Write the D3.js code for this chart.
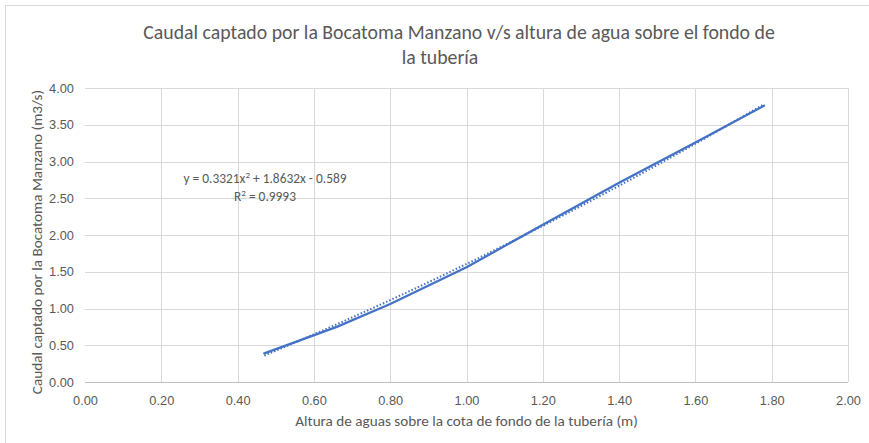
<!DOCTYPE html>
<html>
<head>
<meta charset="utf-8">
<script src="https://cdn.jsdelivr.net/npm/d3@7"></script>
<style>
  body { margin: 0; background: #fff; }
  svg { font-family: Carlito, Calibri, Lato, sans-serif; }
  .grid line { stroke: #d9d9d9; }
  .tick text { fill: #595959; font-size: 12.8px; }
</style>
</head>
<body>
<svg width="869" height="443"></svg>
<script>
// measured points (altura m, caudal m3/s)
const altura = [0.47, 0.66, 0.80, 1.00, 1.20, 1.40, 1.60, 1.78];
const caudal = [0.39, 0.75, 1.06, 1.56, 2.14, 2.71, 3.26, 3.76];
// polynomial trendline shown in the chart: a*x^2 + b*x + c
const trendCoef = [0.3321, 1.8632, -0.589];
const xTicks = [0, 0.2, 0.4, 0.6, 0.8, 1.0, 1.2, 1.4, 1.6, 1.8, 2.0];
const yTicks = [0, 0.5, 1.0, 1.5, 2.0, 2.5, 3.0, 3.5, 4.0];

const margin = { top: 88, right: 21, bottom: 61, left: 85 },
      width = 869 - margin.left - margin.right,
      height = 443 - margin.top - margin.bottom;

const svg = d3.select("svg");

// chart frame
svg.append("rect")
   .attr("x", 5.5).attr("y", 5.5)
   .attr("width", 900).attr("height", 900)
   .attr("fill", "none").attr("stroke", "#d9d9d9");

const g = svg.append("g")
    .attr("transform", `translate(${margin.left},${margin.top})`);

const x = d3.scaleLinear().domain([0, 2]).range([0, width]);
const y = d3.scaleLinear().domain([0, 4]).range([height, 0]);

// gridlines
g.append("g").attr("class", "grid")
 .selectAll("line").data(yTicks.slice(1)).enter().append("line")
 .attr("x1", 0).attr("x2", width)
 .attr("y1", d => Math.round(y(d)) + 0.5).attr("y2", d => Math.round(y(d)) + 0.5);
g.append("g").attr("class", "grid")
 .selectAll("line").data(xTicks.slice(1)).enter().append("line")
 .attr("y1", 0).attr("y2", height)
 .attr("x1", d => Math.round(x(d)) + 0.5).attr("x2", d => Math.round(x(d)) + 0.5);

// axes
const xAxis = g.append("g")
    .attr("transform", `translate(0,${Math.round(height) + 0.5})`)
    .call(d3.axisBottom(x).tickValues(xTicks).tickFormat(d3.format(".2f")).tickSize(0).tickPadding(13));
xAxis.select(".domain").attr("stroke", "#bfbfbf").attr("d", `M0,0H${width}`);

const yAxis = g.append("g")
    .call(d3.axisLeft(y).tickValues(yTicks).tickFormat(d3.format(".2f")).tickSize(0).tickPadding(11));
yAxis.select(".domain").remove();

// data line
g.append("path")
 .datum(altura.map((a, i) => [a, caudal[i]]))
 .attr("fill", "none")
 .attr("stroke", "#4472c4")
 .attr("stroke-width", 2.25)
 .attr("stroke-linejoin", "round")
 .attr("stroke-linecap", "round")
 .attr("d", d3.line().x(d => x(d[0])).y(d => y(d[1])));

// trendline, from the displayed coefficients
const xs = d3.range(altura[0], altura[altura.length - 1] + 0.0001, 0.01);
g.append("path")
 .datum(xs)
 .attr("fill", "none")
 .attr("stroke", "#4472c4")
 .attr("stroke-width", 2)
 .attr("stroke-dasharray", "1.5,2")
 .attr("d", d3.line()
     .x(d => x(d))
     .y(d => y(trendCoef[0] * d * d + trendCoef[1] * d + trendCoef[2])));

// equation label
const eq = svg.append("text")
   .attr("x", 265).attr("y", 183)
   .attr("text-anchor", "middle")
   .attr("fill", "#595959").style("font-size", "13.4px");
eq.append("tspan").text(`y = ${trendCoef[0]}x`);
eq.append("tspan").attr("dy", -5).style("font-size", "9px").text("2");
eq.append("tspan").attr("dy", 5).text(` + ${trendCoef[1]}x - ${Math.abs(trendCoef[2])}`);
const r2 = svg.append("text")
   .attr("x", 265).attr("y", 201)
   .attr("text-anchor", "middle")
   .attr("fill", "#595959").style("font-size", "13.4px");
r2.append("tspan").text("R");
r2.append("tspan").attr("dy", -5).style("font-size", "9px").text("2");
r2.append("tspan").attr("dy", 5).text(" = 0.9993");

// title
svg.append("text")
   .attr("x", 459).attr("y", 39)
   .attr("text-anchor", "middle")
   .attr("fill", "#595959").style("font-size", "19.8px")
   .text("Caudal captado por la Bocatoma Manzano v/s altura de agua sobre el fondo de");
svg.append("text")
   .attr("x", 440).attr("y", 64)
   .attr("text-anchor", "middle")
   .attr("fill", "#595959").style("font-size", "19.8px")
   .text("la tubería");

// axis titles
svg.append("text")
   .attr("x", margin.left + width / 2).attr("y", 426)
   .attr("text-anchor", "middle")
   .attr("fill", "#595959").style("font-size", "15.2px")
   .text("Altura de aguas sobre la cota de fondo de la tubería (m)");
svg.append("text")
   .attr("transform", `translate(42,${margin.top + height / 2 + 7}) rotate(-90)`)
   .attr("text-anchor", "middle")
   .attr("fill", "#595959").style("font-size", "15.2px")
   .text("Caudal captado por la Bocatoma Manzano (m3/s)");
</script>
</body>
</html>
